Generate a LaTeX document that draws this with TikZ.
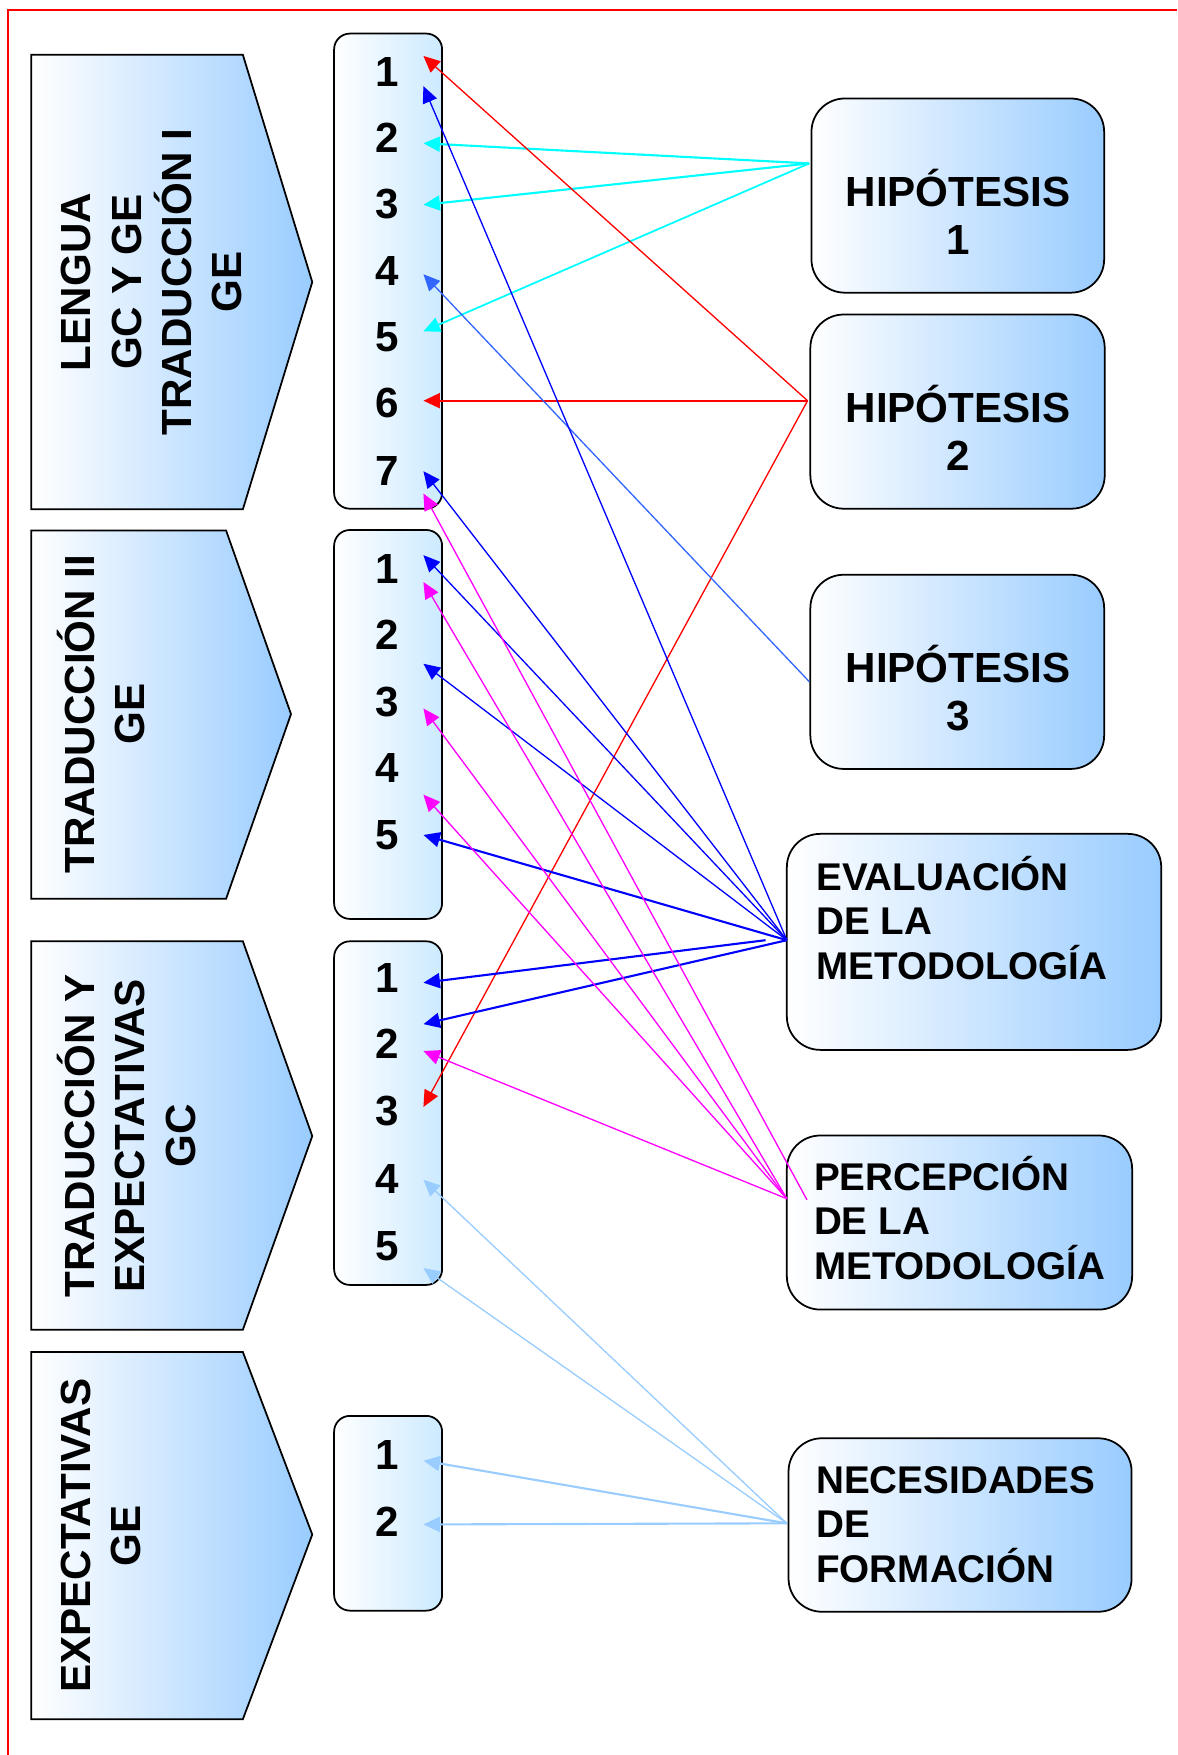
\documentclass[tikz,border=0pt]{standalone}
\usepackage{fontspec}
\setmainfont{Liberation Sans}
\usetikzlibrary{arrows.meta,fit,calc}
\definecolor{lblue}{RGB}{153,204,255}
\definecolor{nblue}{RGB}{204,234,255}
\definecolor{hblue}{RGB}{51,102,255}
\definecolor{lineblue}{RGB}{0,0,255}
\definecolor{linecyan}{RGB}{0,255,255}
\definecolor{linemag}{RGB}{255,0,255}
\definecolor{linered}{RGB}{255,0,0}
\begin{document}
\begin{tikzpicture}[x=0.022395cm,y=-0.022395cm,
  chev/.style={draw=black,line width=1pt,left color=white,right color=lblue},
  ctext/.style={rotate=90,align=center,inner sep=0,font=\fontsize{24}{28.6}\selectfont\bfseries},
  nbox/.style={draw=black,line width=1pt,rounded corners=9pt,left color=white,right color=nblue,inner sep=0},
  rbox/.style={draw=black,line width=1pt,rounded corners=19pt,left color=white,right color=lblue,inner sep=0},
  num/.style={font=\fontsize{24}{28}\selectfont\bfseries,minimum width=1.433cm,inner sep=0},
  htext/.style={align=center,inner sep=0,font=\fontsize{24}{27.4}\selectfont\bfseries},
  btext/.style={align=left,anchor=west,inner sep=0,font=\fontsize{22}{25.4}\selectfont\bfseries},
  tip/.style={-{Triangle[length=0.33cm,width=0.3cm]}},
  thinarr/.style={tip,line width=0.75pt},
  thickarr/.style={tip,line width=1.2pt}]
\useasboundingbox (0,0) rectangle (1052,1568);
% frame
\draw[red,line width=1.2pt] (7.4,1568) -- (7.4,9.2) -- (1052,9.2);

% chevrons
\draw[chev] (28,49) -- (217,49) -- (279,252) -- (217,455) -- (28,455) -- cycle;
\draw[chev] (28,474) -- (202,474) -- (260,638) -- (202,803) -- (28,803) -- cycle;
\draw[chev] (28,841) -- (217,841) -- (279,1015) -- (217,1188) -- (28,1188) -- cycle;
\draw[chev] (28,1208) -- (217,1208) -- (279,1371) -- (217,1536) -- (28,1536) -- cycle;
\node[ctext] (t1) at (135.5,252) {LENGUA\\GC Y GE\\TRADUCCIÓN I\\GE};
\node[ctext] (t2) at (90.5,638) {TRADUCCIÓN II\\GE};
\node[ctext] (t3) at (113,1015) {TRADUCCIÓN Y\\EXPECTATIVAS\\GC};
\node[ctext] (t4) at (90.5,1372) {EXPECTATIVAS\\GE};

% number boxes
\node[nbox,fit={(298.5,30)(395,454.5)}] (A) {};
\node[nbox,fit={(298.5,473.5)(395,821)}] (B) {};
\node[nbox,fit={(298.5,841)(395,1148)}] (C) {};
\node[nbox,fit={(298.5,1265)(395,1439)}] (D) {};

\node[num] (a1) at (346,64) {1};
\node[num] (a2) at (346,123) {2};
\node[num] (a3) at (346,182) {3};
\node[num] (a4) at (346,242) {4};
\node[num] (a5) at (346,301) {5};
\node[num] (a6) at (346,360) {6};
\node[num] (a7) at (346,421) {7};
\node[num] (b1) at (346,508) {1};
\node[num] (b2) at (346,567) {2};
\node[num] (b3) at (346,627) {3};
\node[num] (b4) at (346,686) {4};
\node[num] (b5) at (346,746) {5};
\node[num] (c1) at (346,874) {1};
\node[num] (c2) at (346,933) {2};
\node[num] (c3) at (346,993) {3};
\node[num] (c4) at (346,1053) {4};
\node[num] (c5) at (346,1113) {5};
\node[num] (d1) at (346,1300) {1};
\node[num] (d2) at (346,1360) {2};

% right boxes
\node[rbox,fit={(725,88)(986.5,261.5)}] (H1) {};
\node[rbox,fit={(724,281)(987,454.5)}] (H2) {};
\node[rbox,fit={(724,513.5)(986.5,687)}] (H3) {};
\node[rbox,fit={(703,745)(1037.5,938)}] (EV) {};
\node[rbox,fit={(703,1014.5)(1011.5,1170)}] (PE) {};
\node[rbox,fit={(704.5,1285)(1011,1440)}] (NE) {};

\node[htext] (h1t) at (856,189) {HIPÓTESIS\\1};
\node[htext] (h2t) at (856,382) {HIPÓTESIS\\2};
\node[htext] (h3t) at (856,615) {HIPÓTESIS\\3};
\node[btext] (evt) at (729,820) {EVALUACIÓN\\DE LA\\METODOLOGÍA};
\node[btext] (pet) at (727,1088) {PERCEPCIÓN\\DE LA\\METODOLOGÍA};
\node[btext] (net) at (729,1362) {NECESIDADES\\DE\\FORMACIÓN};

% source points
\coordinate (s1) at (723,146);
\coordinate (s2) at (721.5,358);
\coordinate (s3) at (723,609);
\coordinate (s4) at (703,840);
\coordinate (s4b) at (684,840);
\coordinate (s5) at (703,1071);
\coordinate (s5b) at (721,1072);
\coordinate (s6) at (703,1361);

% H1 (cyan)
\draw[thickarr,linecyan] (s1) -- ($(a2.east)+(0,5)$);
\draw[thickarr,linecyan] (s1) -- ($(a3.east)+(0,1)$);
\draw[thinarr,linecyan,line width=1pt] (s1) -- ($(a5.east)+(0,-5)$);
% H2 (red)
\draw[thinarr,linered] (s2) -- ($(a1.east)+(0,-14)$);
\draw[thickarr,linered] (s2) -- ($(a6.east)+(0,-2)$);
\draw[thinarr,linered] (s2) -- ($(c3.east)+(0,-4)$);
% H3
\draw[thinarr,hblue] (s3) -- ($(a4.east)+(0,3)$);
% evaluation (blue)
\draw[thinarr,lineblue] (s4) -- ($(a1.east)+(0,13)$);
\draw[thinarr,lineblue] (s4) -- ($(a7.east)+(0,0)$);
\draw[thinarr,lineblue] (s4) -- ($(b1.east)+(0,-12)$);
\draw[thinarr,lineblue] (s4) -- ($(b2.east)+(0,26)$);
\draw[thickarr,lineblue] (s4) -- ($(b5.east)+(0,0)$);
\draw[thickarr,lineblue] (s4b) -- ($(c1.east)+(0,4)$);
\draw[thickarr,lineblue] (s4) -- ($(c2.east)+(0,-18)$);
% perception (magenta)
\draw[thinarr,linemag] (s5b) -- ($(a7.east)+(0,20)$);
\draw[thinarr,linemag] (s5) -- ($(b1.east)+(0,12)$);
\draw[thinarr,linemag] (s5) -- ($(b3.east)+(0,6)$);
\draw[thinarr,linemag] (s5) -- ($(b4.east)+(0,24)$);
\draw[thinarr,linemag] (s5) -- ($(c2.east)+(0,6)$);
% needs (light blue)
\draw[thinarr,lblue] (s6) -- ($(c4.east)+(0,1)$);
\draw[thinarr,lblue] (s6) -- ($(c5.east)+(0,20)$);
\draw[thickarr,lblue] (s6) -- ($(d1.east)+(0,5)$);
\draw[thickarr,lblue] (s6) -- ($(d2.east)+(0,2)$);
\end{tikzpicture}
\end{document}
